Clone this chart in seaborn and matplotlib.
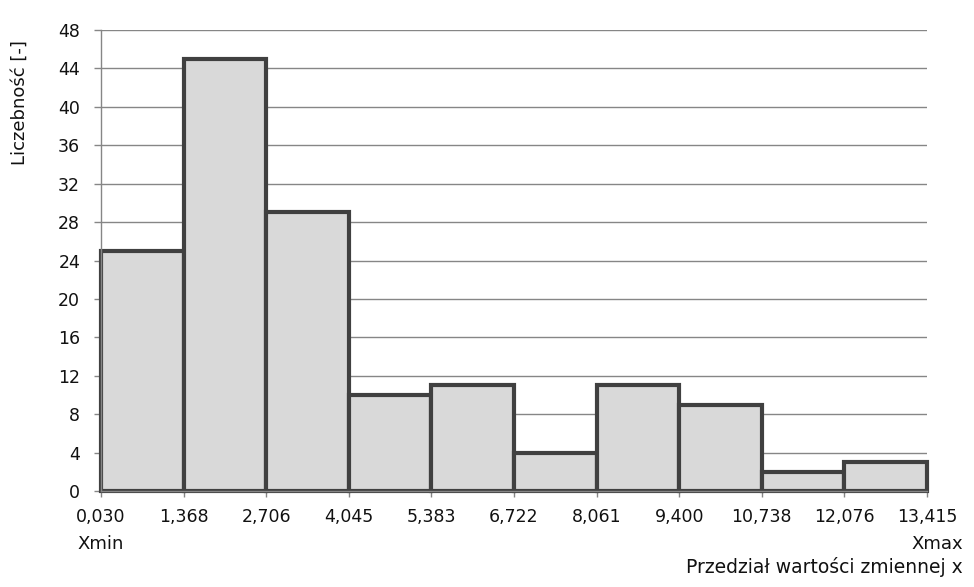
import matplotlib
matplotlib.use("Agg")
import matplotlib.pyplot as plt
import seaborn as sns
import numpy as np
import pandas as pd

# Data
bin_edges = [0.030, 1.368, 2.706, 4.045, 5.383, 6.722, 8.061, 9.400, 10.738, 12.076, 13.415]
edge_labels = ["0,030", "1,368", "2,706", "4,045", "5,383", "6,722", "8,061", "9,400", "10,738", "12,076", "13,415"]
counts = [25, 45, 29, 10, 11, 4, 11, 9, 2, 3]
y_ticks = [0, 4, 8, 12, 16, 20, 24, 28, 32, 36, 40, 44, 48]

sns.set_theme(style="white")
plt.rcParams['font.family'] = ['DejaVu Sans']

W, H = 974, 587
fig = plt.figure(figsize=(W / 100, H / 100), dpi=100)
ax = fig.add_axes([101 / W, 1 - 491 / H, (927 - 101) / W, (491 - 30) / H])

centers = [(a + b) / 2 for a, b in zip(bin_edges[:-1], bin_edges[1:])]
df = pd.DataFrame({"x": centers, "w": counts})
sns.histplot(data=df, x="x", weights="w", bins=bin_edges, ax=ax,
             color="#d9d9d9", edgecolor="#404040", linewidth=3, alpha=1)
for p in ax.patches:
    p.set_facecolor("#d9d9d9")
    p.set_clip_on(False)

gray = "#868686"
txt = "#111111"
ax.set_xlim(bin_edges[0], bin_edges[-1])
ax.set_ylim(0, 48)
ax.set_yticks(y_ticks)
ax.set_yticklabels([str(v) for v in y_ticks], fontsize=12.5, color=txt)
ax.set_xticks(bin_edges)
ax.set_xticklabels(edge_labels, fontsize=12.5, color=txt)
ax.set_axisbelow(True)
ax.yaxis.grid(True, color=gray, linewidth=1)
ax.xaxis.grid(False)
for s in ["top", "right"]:
    ax.spines[s].set_visible(False)
for s in ["left", "bottom"]:
    ax.spines[s].set_color(gray)
    ax.spines[s].set_linewidth(1)
ax.tick_params(axis="y", direction="out", length=5, width=1, color=gray, pad=10, left=True)
ax.tick_params(axis="x", direction="out", length=4, width=1, color=gray, pad=8, bottom=True)
ax.set_xlabel("")
ax.set_ylabel("")

fig.text(20 / W, 1 - 40 / H, "Liczebność [-]", rotation=90, ha="center", va="top",
         fontsize=13, color=txt)
fig.text(77 / W, 1 - 544 / H, "Xmin", ha="left", va="center", fontsize=13, color=txt)
fig.text(963 / W, 1 - 544 / H, "Xmax", ha="right", va="center", fontsize=13, color=txt)
fig.text(963 / W, 1 - 567 / H, "Przedział wartości zmiennej x", ha="right", va="center",
         fontsize=13.5, color=txt)

fig.savefig("out.png", dpi=100, facecolor="white")
